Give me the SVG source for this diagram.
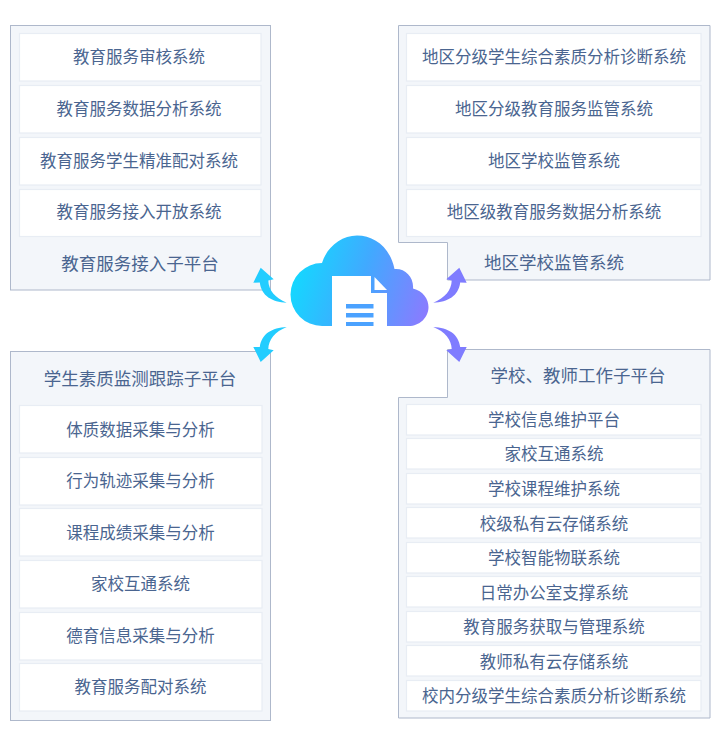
<svg xmlns="http://www.w3.org/2000/svg" xmlns:xlink="http://www.w3.org/1999/xlink" width="719" height="735" viewBox="0 0 719 735">
<style>
text{font-family:"Noto Sans CJK SC","Noto Sans",sans-serif;fill:#4a6590;text-anchor:middle;dominant-baseline:central}
.t{font-size:16.5px}
.h{font-size:17.5px}
.panel{fill:#f3f6fa;stroke:#aeb8cb;stroke-width:1}
.card{fill:#fff;stroke:#e8edf4;stroke-width:1.2}
</style>
<defs>
<linearGradient id="cg" gradientUnits="userSpaceOnUse" x1="291" y1="265" x2="428" y2="310">
<stop offset="0" stop-color="#10dcff"/><stop offset="0.5" stop-color="#41a9ff"/><stop offset="1" stop-color="#8a7bff"/>
</linearGradient>
<path id="ar" d="M286.700 302.700C272 302 261.500 296 259.800 282.500L253.300 282.700L260.700 267.700L273.700 279.300L268.300 280.500C268.500 290 275 298 286.700 302.700Z"/>
</defs>
<rect width="719" height="735" fill="#fff"/>
<g id="panel-top-left">
<rect class="panel" x="10.500" y="25.500" width="260" height="264.500"/>
<rect class="card" x="19.500" y="33.500" width="241.500" height="47.500"/><text class="t" x="139" y="56">教育服务审核系统</text>
<rect class="card" x="19.500" y="85.500" width="241.500" height="47.500"/><text class="t" x="139" y="108">教育服务数据分析系统</text>
<rect class="card" x="19.500" y="137.500" width="241.500" height="47.500"/><text class="t" x="139" y="160">教育服务学生精准配对系统</text>
<rect class="card" x="19.500" y="189.500" width="241.500" height="47"/><text class="t" x="139" y="211">教育服务接入开放系统</text>
<text class="h" x="140" y="262.500">教育服务接入子平台</text>
</g>
<g id="panel-top-right">
<path class="panel" d="M398.500 25.500H710V280H447.500V242.500H398.500Z"/>
<rect class="card" x="406.500" y="33.500" width="294.500" height="47.500"/><text class="t" x="554" y="56">地区分级学生综合素质分析诊断系统</text>
<rect class="card" x="406.500" y="85.500" width="294.500" height="47.500"/><text class="t" x="554" y="108">地区分级教育服务监管系统</text>
<rect class="card" x="406.500" y="137.500" width="294.500" height="47.500"/><text class="t" x="554" y="160">地区学校监管系统</text>
<rect class="card" x="406.500" y="189.500" width="294.500" height="47"/><text class="t" x="554" y="211">地区级教育服务数据分析系统</text>
<text class="h" x="554" y="261.500">地区学校监管系统</text>
</g>
<g id="panel-bottom-left">
<rect class="panel" x="10.500" y="351.500" width="260" height="369"/>
<text class="h" x="140" y="377">学生素质监测跟踪子平台</text>
<rect class="card" x="19.500" y="405.500" width="242.500" height="47.500"/><text class="t" x="140.500" y="429">体质数据采集与分析</text>
<rect class="card" x="19.500" y="457.500" width="242.500" height="47.500"/><text class="t" x="140.500" y="480">行为轨迹采集与分析</text>
<rect class="card" x="19.500" y="508.500" width="242.500" height="47.500"/><text class="t" x="140.500" y="532">课程成绩采集与分析</text>
<rect class="card" x="19.500" y="560.500" width="242.500" height="47.500"/><text class="t" x="140.500" y="583">家校互通系统</text>
<rect class="card" x="19.500" y="612.500" width="242.500" height="47.500"/><text class="t" x="140.500" y="635">德育信息采集与分析</text>
<rect class="card" x="19.500" y="663.500" width="242.500" height="47.500"/><text class="t" x="140.500" y="686">教育服务配对系统</text>
</g>
<g id="panel-bottom-right">
<path class="panel" d="M447.500 349.500H710V718H398.500V397.500H447.500Z"/>
<text class="h" x="578" y="374">学校、教师工作子平台</text>
<rect class="card" x="406.500" y="404.500" width="294.500" height="30.500"/><text class="t" x="554" y="419">学校信息维护平台</text>
<rect class="card" x="406.500" y="438.500" width="294.500" height="30.500"/><text class="t" x="554" y="453">家校互通系统</text>
<rect class="card" x="406.500" y="473.500" width="294.500" height="30.500"/><text class="t" x="554" y="488">学校课程维护系统</text>
<rect class="card" x="406.500" y="507.500" width="294.500" height="30.500"/><text class="t" x="554" y="522.500">校级私有云存储系统</text>
<rect class="card" x="406.500" y="542.500" width="294.500" height="30.500"/><text class="t" x="554" y="557">学校智能物联系统</text>
<rect class="card" x="406.500" y="576.500" width="294.500" height="30.500"/><text class="t" x="554" y="591.500">日常办公室支撑系统</text>
<rect class="card" x="406.500" y="611.500" width="294.500" height="30.500"/><text class="t" x="554" y="626">教育服务获取与管理系统</text>
<rect class="card" x="406.500" y="645.500" width="294.500" height="30.500"/><text class="t" x="554" y="660.500">教师私有云存储系统</text>
<rect class="card" x="406.500" y="680.500" width="294.500" height="30.500"/><text class="t" x="554" y="695">校内分级学生综合素质分析诊断系统</text>
</g>
<g id="connectors">
<use xlink:href="#ar" href="#ar" fill="#22cdff"/>
<use xlink:href="#ar" href="#ar" fill="#22cdff" transform="matrix(1 0 0 -1 0 629.600)"/>
<use xlink:href="#ar" href="#ar" fill="#7f7cff" transform="matrix(-1 0 0 1 720 0)"/>
<use xlink:href="#ar" href="#ar" fill="#7f7cff" transform="matrix(-1 0 0 -1 720 629.600)"/>
</g>
<g id="cloud">
<path fill="url(#cg)" d="M322 326A31.500 31.500 0 1 1 322 263C327 247 341 235.500 357 235.500C374 235.500 390 247 394.500 269C405 268 414 277 413 288.500C423 291 428.500 299 428.500 307C428.500 318 419 326 409 326Z"/>
<path fill="#fff" d="M332 276H371V293H387V326H332Z"/>
<path fill="#fff" d="M374.500 277L387 290H374.500Z"/>
<path fill="#4ba2ff" d="M346 304h27.500v4.500H346zM346 313h27.500v4.500H346zM346 322h27.500v4H346z"/>
</g>
</svg>
